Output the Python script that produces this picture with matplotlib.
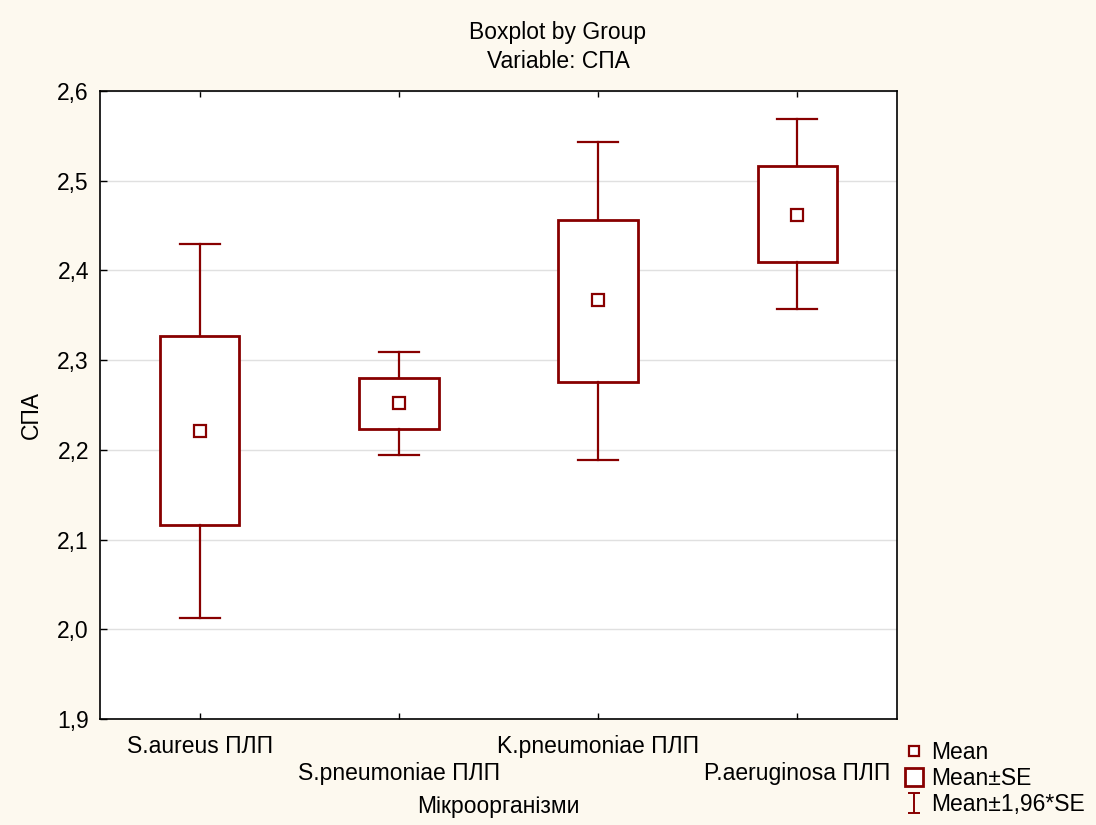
import matplotlib.pyplot as plt
import matplotlib.ticker as ticker
from matplotlib.lines import Line2D
from matplotlib.path import Path

plt.rcParams['font.family'] = ['Liberation Sans', 'DejaVu Sans']

groups = ['S.aureus ПЛП', 'S.pneumoniae ПЛП', 'K.pneumoniae ПЛП', 'P.aeruginosa ПЛП']
means = [2.221, 2.252, 2.367, 2.462]
se_lo = [2.116, 2.223, 2.276, 2.409]
se_hi = [2.327, 2.280, 2.456, 2.516]
ci_lo = [2.013, 2.194, 2.189, 2.357]
ci_hi = [2.430, 2.309, 2.543, 2.569]

red = '#880000'
cream = '#fdf9ef'
fs = 16.5

fig = plt.figure(figsize=(10.96, 8.25), dpi=100, facecolor=cream)
ax = fig.add_axes([100 / 1096, 1 - 719 / 825, 797 / 1096, 628 / 825])

positions = list(range(1, len(groups) + 1))
stats = []
for m, lo, hi, wl, wh in zip(means, se_lo, se_hi, ci_lo, ci_hi):
    stats.append(dict(med=m, mean=m, q1=lo, q3=hi, whislo=wl, whishi=wh, fliers=[]))

ax.bxp(stats, positions=positions, widths=0.4, capwidths=0.2,
       showmeans=True, patch_artist=True,
       boxprops=dict(facecolor='white', edgecolor=red, linewidth=2.0),
       whiskerprops=dict(color=red, linewidth=1.6),
       capprops=dict(color=red, linewidth=1.6),
       medianprops=dict(visible=False),
       meanprops=dict(marker='s', markersize=8.5, markerfacecolor='white',
                      markeredgecolor=red, markeredgewidth=1.6))

ax.set_xlim(0.5, 4.5)
ax.set_ylim(1.9, 2.6)
ax.yaxis.set_major_locator(ticker.MultipleLocator(0.1))
ax.yaxis.set_major_formatter(ticker.FuncFormatter(lambda v, p: f'{v:.1f}'.replace('.', ',')))
ax.grid(axis='y', color='#e0e0e0', linewidth=1.0)
ax.set_axisbelow(True)
ax.set_xticks(positions)
ax.set_xticklabels([])
ax.tick_params(axis='x', direction='in', length=4, width=1, top=True, bottom=True)
ax.tick_params(axis='y', direction='in', length=5, width=1, labelsize=fs, pad=8)
for sp in ax.spines.values():
    sp.set_linewidth(1.2)
    sp.set_color('black')

# group names alternate between two rows under the axis
for i, (x, name) in enumerate(zip(positions, groups)):
    dy = -19.5 if i % 2 == 0 else -39
    ax.annotate(name, xy=(x, 0), xycoords=('data', 'axes fraction'),
                xytext=(0, dy), textcoords='offset points',
                ha='center', va='center', fontsize=fs)

fig.text(498 / 1096, 1 - 806 / 825, 'Мікроорганізми', ha='center', va='center', fontsize=fs)
fig.text(31 / 1096, 1 - 415 / 825, 'СПА', ha='center', va='center', rotation=90, fontsize=fs)
fig.text(558 / 1096, 1 - 32 / 825, 'Boxplot by Group', ha='center', va='center', fontsize=fs)
fig.text(558 / 1096, 1 - 62 / 825, 'Variable: СПА', ha='center', va='center', fontsize=fs)

ibeam = Path([(-0.6, -1), (0.6, -1), (0, -1), (0, 1), (-0.6, 1), (0.6, 1)],
             [Path.MOVETO, Path.LINETO, Path.MOVETO, Path.LINETO, Path.MOVETO, Path.LINETO])
handles = [
    Line2D([], [], linestyle='none', marker='s', markersize=7, markerfacecolor='white',
           markeredgecolor=red, markeredgewidth=1.6),
    Line2D([], [], linestyle='none', marker='s', markersize=13.5, markerfacecolor='white',
           markeredgecolor=red, markeredgewidth=2.0),
    Line2D([], [], linestyle='none', marker=ibeam, markersize=15,
           markeredgecolor=red, markerfacecolor='none', markeredgewidth=1.4),
]
fig.legend(handles, ['Mean', 'Mean±SE', 'Mean±1,96*SE'], loc='upper left',
           bbox_to_anchor=(890 / 1096, 1 - 730 / 825), frameon=False, fontsize=fs,
           handlelength=1.1, handletextpad=0.2, labelspacing=0.12, borderpad=0)

fig.savefig('out.png', dpi=100, facecolor=cream)
